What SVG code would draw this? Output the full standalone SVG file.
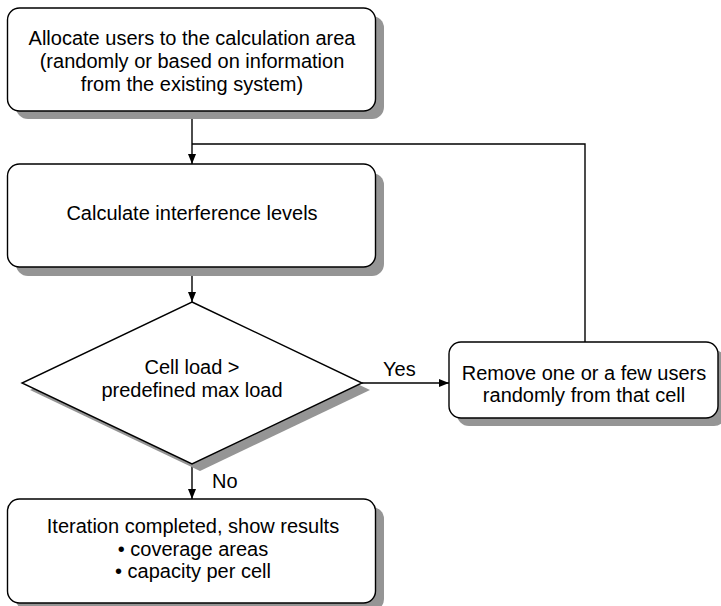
<svg xmlns="http://www.w3.org/2000/svg" width="721" height="606" viewBox="0 0 721 606">
  <style>
    .box { fill: #ffffff; stroke: #000000; stroke-width: 1.4; }
    .shadow { fill: #959595; stroke: none; }
    .label { font-family: "Liberation Sans", Arial, Helvetica, sans-serif; font-size: 20px; fill: #000000; }
    .mid { text-anchor: middle; }
    .wire { fill: none; stroke: #000000; stroke-width: 1.4; }
  </style>
  <defs>
    <marker id="arrow" viewBox="0 0 10 10" refX="10" refY="5" markerWidth="10" markerHeight="10" markerUnits="userSpaceOnUse" orient="auto">
      <path d="M0,1 L10,5 L0,9 Z" fill="#000000"/>
    </marker>
  </defs>

  <rect width="721" height="606" fill="#ffffff"/>

  <!-- connectors -->
  <g id="connectors">
    <line class="wire" x1="192" y1="111" x2="192" y2="164" marker-end="url(#arrow)"/>
    <polyline class="wire" points="585,342 585,144 192,144"/>
    <line class="wire" x1="192" y1="267" x2="192" y2="302" marker-end="url(#arrow)"/>
    <line class="wire" x1="362" y1="383" x2="449" y2="383" marker-end="url(#arrow)"/>
    <line class="wire" x1="192" y1="464" x2="192" y2="499" marker-end="url(#arrow)"/>
    <text class="label" x="383" y="376">Yes</text>
    <text class="label" x="212" y="488">No</text>
  </g>

  <!-- start: allocate users -->
  <g id="allocate">
    <rect class="shadow" x="16" y="16" width="368" height="103" rx="12"/>
    <rect class="box" x="7.5" y="8" width="368" height="103" rx="12"/>
    <text class="label mid" x="192" y="45">Allocate users to the calculation area</text>
    <text class="label mid" x="192" y="68">(randomly or based on information</text>
    <text class="label mid" x="192" y="91">from the existing system)</text>
  </g>

  <!-- interference calculation -->
  <g id="interference">
    <rect class="shadow" x="16" y="173" width="368" height="103" rx="12"/>
    <rect class="box" x="7.5" y="164" width="368" height="103" rx="12"/>
    <text class="label mid" x="192" y="220">Calculate interference levels</text>
  </g>

  <!-- load decision -->
  <g id="decision">
    <polygon class="shadow" points="200,309 370,390 200,471 30,390"/>
    <polygon class="box" points="192,302 362,383 192,464 22,383"/>
    <text class="label mid" x="192" y="374">Cell load &gt;</text>
    <text class="label mid" x="192" y="397">predefined max load</text>
  </g>

  <!-- remove users -->
  <g id="remove">
    <rect class="shadow" x="457" y="350" width="269" height="76" rx="12"/>
    <rect class="box" x="449" y="342" width="269" height="76" rx="12"/>
    <text class="label mid" x="584" y="380">Remove one or a few users</text>
    <text class="label mid" x="584" y="402">randomly from that cell</text>
  </g>

  <!-- results -->
  <g id="results">
    <rect class="shadow" x="16" y="507" width="368" height="104" rx="12"/>
    <rect class="box" x="7.5" y="499" width="368" height="104" rx="12"/>
    <text class="label mid" x="193" y="533">Iteration completed, show results</text>
    <text class="label mid" x="193" y="556">• coverage areas</text>
    <text class="label mid" x="193" y="578">• capacity per cell</text>
  </g>
</svg>
